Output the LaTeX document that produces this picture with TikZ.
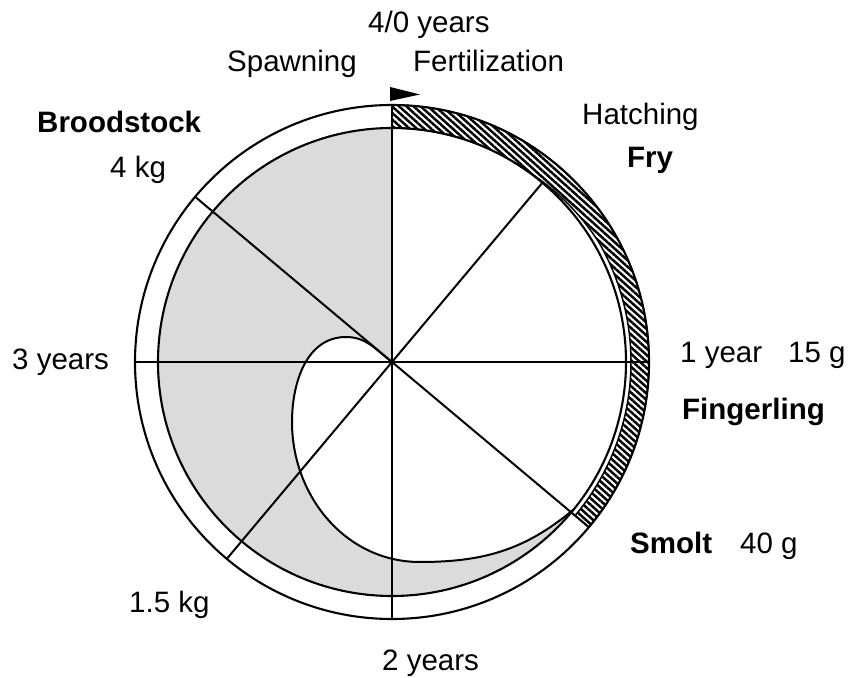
\documentclass[tikz,border=0pt]{standalone}
\usepackage{fontspec}
\setmainfont{Liberation Sans}
\usetikzlibrary{patterns.meta,calc}
\definecolor{stip}{gray}{0.86}
\begin{document}
\begin{tikzpicture}[x=1pt,y=1pt,
  lbl/.style={anchor=base west, inner sep=0pt, font=\fontsize{29.5}{35}\selectfont},
  blbl/.style={anchor=base west, inner sep=0pt, font=\fontsize{29.5}{35}\selectfont\bfseries},
  ring/.style={line width=2.1pt},
  spoke/.style={line width=2pt},
  axisline/.style={line width=1.4pt},
  band/.style={line width=1.5pt, pattern={Lines[angle=-42,distance=4.8pt,line width=2.5pt]}}]
\useasboundingbox (0,0) rectangle (850,677);
\coordinate (C) at (392,315);
\def\Ro{257}
\def\Ri{234}
% growth curve points
\coordinate (gtop) at (346,340);
\coordinate (gleft) at (292,255);
\coordinate (gbot) at (420,115);
\coordinate (gend) at ($(C)+(321:\Ri)$);
% stippled region
\fill[stip] (C) -- ($(C)+(90:\Ri)$) arc[start angle=90,end angle=321,radius=\Ri]
  to[out=220,in=0] (gbot) to[out=180,in=270] (gleft) to[out=90,in=180] (gtop)
  to[out=0,in=143] (C) -- cycle;
\begin{scope}[shift={(C)}]
  % hatched band
  \draw[band] (90:\Ro) arc[start angle=90,end angle=-40,radius=\Ro]
    -- plot[domain=-40:90,samples=90,variable=\t] (\t:{239-5*min(1,max(0,(\t-30)/25))}) -- cycle;
  % circles
  \draw[ring] (0,0) circle[radius=\Ro];
  \draw[ring] (0,0) circle[radius=\Ri];
  % spokes
  \draw[axisline] (90:\Ro) -- (270:\Ro);
  \draw[axisline] (180:\Ro) -- (0:\Ro);
  \draw[spoke] (0,0) -- (50:\Ri);
  \draw[spoke] (0,0) -- (140:\Ro);
  \draw[spoke] (0,0) -- (230:\Ro);
  \draw[spoke] (0,0) -- (320:\Ro);
\end{scope}
% growth curve
\draw[spoke] (C) to[out=143,in=0] (gtop) to[out=180,in=90] (gleft)
  to[out=270,in=180] (gbot) to[out=0,in=220] (gend);
% start arrow
\fill (390,590) -- (420,582.5) -- (390,576) -- cycle;
% labels
\node[lbl] (t40) at (368,644) {4/0 years};
\node[lbl] (tspawn) at (227,605) {Spawning};
\node[lbl] (tfert) at (413,605) {Fertilization};
\node[lbl] (thatch) at (582,552) {Hatching};
\node[blbl] (tfry) at (627,509) {Fry};
\node[blbl] (tbrood) at (37,544) {Broodstock};
\node[lbl] (t4kg) at (110,499) {4 kg};
\node[lbl] (t3y) at (12,307) {3 years};
\node[lbl] (t1y) at (680,314) {1 year};
\node[lbl] (t15g) at (788,314) {15 g};
\node[blbl] (tfing) at (682,257) {Fingerling};
\node[blbl] (tsmolt) at (630,124) {Smolt};
\node[lbl] (t40g) at (740,124) {40 g};
\node[lbl] (t15kg) at (129,65) {1.5 kg};
\node[lbl] (t2y) at (382,7) {2 years};
\end{tikzpicture}
\end{document}
